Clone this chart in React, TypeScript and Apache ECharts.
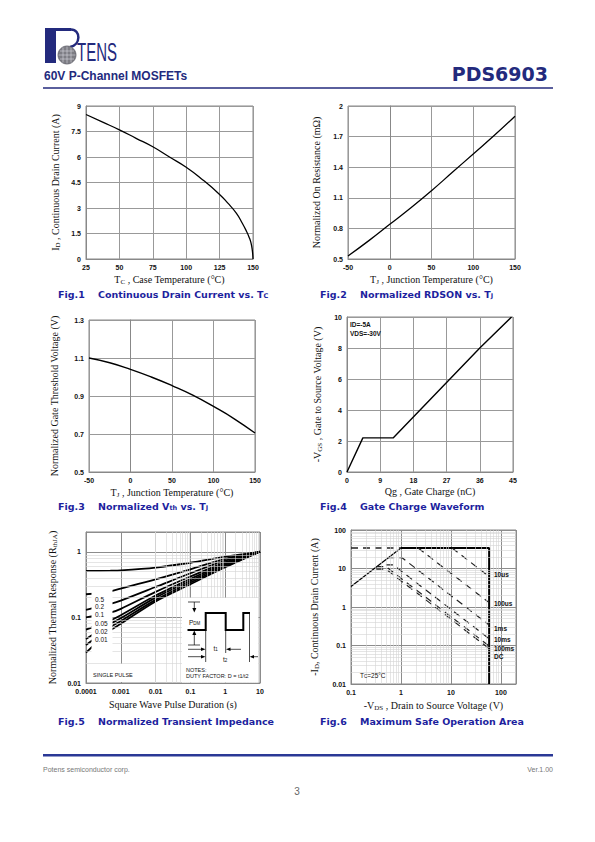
import React, { useEffect, useRef } from 'react';
import * as echarts from 'echarts';

// ---------- DATA ----------
// Fig.1  Continuous drain current vs. case temperature
const fig1Temp = [25, 37.5, 50, 62.5, 75, 87.5, 100, 112.5, 125, 131, 137.5, 142, 145, 147, 148.5, 149.5, 150];
const fig1Id = [8.5, 8.05, 7.6, 7.1, 6.6, 6.0, 5.4, 4.65, 3.8, 3.3, 2.7, 2.1, 1.65, 1.3, 0.95, 0.5, 0];

// Fig.2  Normalized RDSON vs. Tj
const fig2Tj = [-50, -25, 0, 25, 50, 75, 100, 125, 150];
const fig2Rdson = [0.53, 0.68, 0.84, 1.0, 1.17, 1.35, 1.53, 1.71, 1.9];

// Fig.3  Normalized Vth vs. Tj
const fig3Tj = [-50, -25, 0, 25, 50, 75, 100, 125, 150];
const fig3Vth = [1.1, 1.075, 1.04, 1.0, 0.955, 0.905, 0.845, 0.78, 0.705];

// Fig.4  Gate charge
const fig4Qg = [0, 4.3, 12.5, 36, 44.6];
const fig4Vgs = [0, 2.2, 2.2, 8, 10];

// Fig.5  Transient thermal impedance
const fig5Time = [0.0001, 0.0005, 0.001, 0.01, 0.1, 1, 10];
const fig5D05 = [0.51, 0.515, 0.52, 0.575, 0.68, 0.84, 1.0];
const fig5D02 = [0.225, 0.25, 0.275, 0.38, 0.54, 0.78, 1.0];
const fig5D01 = [0.13, 0.16, 0.18, 0.29, 0.47, 0.73, 1.0];
const fig5D005 = [0.1, 0.118, 0.135, 0.245, 0.42, 0.69, 1.0];
const fig5D002 = [0.065, 0.09, 0.108, 0.215, 0.385, 0.66, 1.0];
const fig5D001 = [0.047, 0.08, 0.097, 0.2, 0.36, 0.63, 1.0];
const fig5SingleA = [0.038, 0.071, 0.088, 0.185, 0.34, 0.6, 1.0];
const fig5SingleB = [0.029, 0.063, 0.08, 0.175, 0.32, 0.58, 1.0];
const fig5Labels = ['0.5', '0.2', '0.1', '0.05', '0.02', '0.01'];

// Fig.6  Safe operating area  ([Vds, Id] pairs)
const soaSlope: number[][] = [[0.1, 3.4], [1, 34]];
const soaLimit: number[][] = [[1, 34], [58, 34], [58, 0.01]];
const soaDashTop: number[][] = [[0.1, 34], [1, 34]];
const soa10us: number[][] = [[10.5, 34], [58, 6.2]];
const soa100us: number[][] = [[2.2, 34], [58, 1.3]];
const soa1ms: number[][] = [[0.53, 19], [1.05, 19], [58, 0.34]];
const soa10ms: number[][] = [[0.5, 12.4], [0.7, 12.4], [58, 0.15]];
const soa100ms: number[][] = [[0.32, 11.2], [0.5, 11.2], [58, 0.097]];
const soaDC: number[][] = [[0.32, 9.6], [0.5, 9.6], [58, 0.083]];
const soaLabels = ['10us', '100us', '1ms', '10ms', '100ms', 'DC'];

// tick labels
const fig5XTicks = ['0.0001', '0.001', '0.01', '0.1', '1', '10'];
const fig5YTicks = ['0.01', '0.1', '1'];
const fig6XTicks = ['0.1', '1', '10', '100'];
const fig6YTicks = ['0.01', '0.1', '1', '10', '100'];

// ---------- STYLE ----------
const NAVY = '#232a7d';
const CAP = '#1d1f9e';
const SANS = 'Liberation Sans, Arial, sans-serif';
const SERIF = 'Liberation Serif, Times New Roman, serif';
const TICK = { fontFamily: SANS, fontWeight: 'bold' as const, fontSize: 7, color: '#111' };
const NAME = { fontFamily: SERIF, fontSize: 10, color: '#111' };
const RICH = {
  n: { fontFamily: SERIF, fontSize: 10, color: '#111' },
  s: { fontFamily: SERIF, fontSize: 7, color: '#111', padding: [5, 0, 0, 0] },
};

const grids = [
  { left: 86, top: 106, width: 167, height: 153 },
  { left: 348, top: 106, width: 167, height: 153 },
  { left: 89, top: 320, width: 166, height: 152 },
  { left: 347, top: 317, width: 166, height: 155 },
  { left: 86, top: 532, width: 174, height: 151 },
  { left: 351, top: 530, width: 165, height: 154 },
].map((g) => ({ ...g, show: true, borderColor: '#888', borderWidth: 1, containLabel: false }));

function linAxis(gi: number, min: number, max: number, interval: number, name: string, nameGap: number) {
  return {
    type: 'value', gridIndex: gi, min, max, interval,
    axisLine: { show: true, lineStyle: { color: '#888' } },
    axisTick: { show: false },
    splitLine: { show: true, lineStyle: { color: '#999', width: 1 } },
    axisLabel: { ...TICK, margin: 5 },
    name, nameLocation: 'middle', nameGap,
    nameTextStyle: { ...NAME, rich: RICH },
  };
}

function logLabel(list: string[]) {
  return (v: number) => {
    const hit = list.find((t) => Math.abs(Math.log10(parseFloat(t)) - Math.log10(v)) < 0.02);
    return hit ?? '';
  };
}

function logAxis(gi: number, min: number, max: number, ticks: string[], name: string, nameGap: number) {
  return {
    type: 'log', logBase: 10, gridIndex: gi, min, max,
    axisLine: { show: true, lineStyle: { color: '#888' } },
    axisTick: { show: false },
    splitLine: { show: true, lineStyle: { color: '#8c8c8c', width: 1 } },
    axisLabel: { ...TICK, margin: 5, formatter: logLabel(ticks), showMinLabel: true, showMaxLabel: true },
    name, nameLocation: 'middle', nameGap,
    nameTextStyle: { ...NAME, rich: RICH },
  };
}

function minors(fromExp: number, toExp: number, max: number) {
  const out: number[] = [];
  for (let e = fromExp; e <= toExp; e++) {
    for (let d = 2; d <= 9; d++) {
      const v = +(d * Math.pow(10, e)).toPrecision(3);
      if (v < max * 0.999) out.push(v);
    }
  }
  return out;
}

function minorGrid(gi: number, xs: number[], ys: number[], anchor: number[]) {
  return {
    type: 'line', xAxisIndex: gi, yAxisIndex: gi, data: [anchor], showSymbol: false, silent: true,
    lineStyle: { width: 0 },
    markLine: {
      silent: true, symbol: ['none', 'none'], label: { show: false },
      emphasis: { disabled: true },
      lineStyle: { color: '#d4d4d4', width: 0.6, type: 'solid' },
      data: [...xs.map((v) => ({ xAxis: v })), ...ys.map((v) => ({ yAxis: v }))],
    },
  };
}

function curve(gi: number, xs: number[], ys: number[], width = 1.4, smooth: boolean | number = true) {
  return {
    type: 'line', xAxisIndex: gi, yAxisIndex: gi, showSymbol: false, smooth, silent: true,
    data: xs.map((x, i) => [x, ys[i]]),
    lineStyle: { color: '#000', width },
  };
}

function pairs(gi: number, pts: number[][], width: number, dashed: boolean) {
  return {
    type: 'line', xAxisIndex: gi, yAxisIndex: gi, showSymbol: false, silent: true,
    data: pts,
    lineStyle: { color: dashed ? '#222' : '#000', width, type: dashed ? [7, 5] : 'solid' },
  };
}

// ---------- GRAPHIC HELPERS ----------
function txt(x: number, y: number, text: string, style: any, extra: any = {}) {
  return { type: 'text', x, y, z: 100, ...extra, style: { text, verticalAlign: 'middle', ...style } };
}
function ln(x1: number, y1: number, x2: number, y2: number, stroke = '#000', lineWidth = 0.7) {
  return { type: 'line', z: 101, shape: { x1, y1, x2, y2 }, style: { stroke, lineWidth } };
}
function tri(points: number[][]) {
  return { type: 'polygon', z: 101, shape: { points }, style: { fill: '#000' } };
}

const CAP_RICH = {
  b: { fontFamily: 'DejaVu Sans, sans-serif', fontWeight: 'bold', fontSize: 9.5, fill: CAP, color: CAP },
  s: { fontFamily: 'DejaVu Sans, sans-serif', fontWeight: 'bold', fontSize: 6.5, fill: CAP, color: CAP, padding: [4, 0, 0, 0] },
};
function caption(x: number, y: number, text: string) {
  return { type: 'text', x, y, z: 100, style: { text, rich: CAP_RICH, verticalAlign: 'middle', fill: CAP } };
}

const smallBold = { font: 'bold 6.5px Liberation Sans, Arial, sans-serif', fill: '#111' };
const small = { font: '6.5px Liberation Sans, Arial, sans-serif', fill: '#111' };
const tiny = { font: '5.5px Liberation Sans, Arial, sans-serif', fill: '#111' };
const subRich = {
  p: { font: '6.5px Liberation Sans, Arial, sans-serif', fill: '#111' },
  d: { font: '4.5px Liberation Sans, Arial, sans-serif', fill: '#111', padding: [3, 0, 0, 0] },
};

const soaLabelY = [574, 603, 628, 639, 648, 656];
const fig5LabelY = [599, 606.5, 614.5, 623, 631.5, 639.5];

const graphics: any[] = [
  // ----- logo -----
  { type: 'rect', z: 100, shape: { x: 45, y: 28, width: 11, height: 35 }, style: { fill: NAVY } },
  { type: 'polyline', z: 100, shape: { points: [[56, 29.5], [71, 29.5]] }, style: { stroke: NAVY, lineWidth: 3, fill: 'none' } },
  { type: 'bezierCurve', z: 100, shape: { x1: 71, y1: 29.5, x2: 70, y2: 47, cpx1: 81, cpy1: 29.5, cpx2: 81, cpy2: 45 }, style: { stroke: NAVY, lineWidth: 2.5, fill: 'none' } },
  { type: 'circle', z: 100, shape: { cx: 67, cy: 55, r: 9 }, style: { fill: '#7d7d84', stroke: '#5a5a64', lineWidth: 0.8 } },
  ln(60, 51, 74, 51, '#d8d8e0', 0.6), ln(58.5, 55, 75.5, 55, '#d8d8e0', 0.6), ln(60, 59, 74, 59, '#d8d8e0', 0.6),
  ln(63, 47.5, 63, 62.5, '#d8d8e0', 0.6), ln(67, 46.5, 67, 63.5, '#d8d8e0', 0.6), ln(71, 47.5, 71, 62.5, '#d8d8e0', 0.6),
  { type: 'text', x: 77, y: 64, z: 100, scaleX: 0.6, style: { text: 'TENS', font: '25px Liberation Sans, Arial, sans-serif', fill: NAVY, verticalAlign: 'bottom' } },
  // ----- header -----
  txt(44, 76, '60V P-Channel MOSFETs', { font: 'bold 12px Liberation Sans, Arial, sans-serif', fill: NAVY }),
  txt(548, 73.5, 'PDS6903', { font: 'bold 19px DejaVu Sans, sans-serif', fill: NAVY, align: 'right' }),
  ln(43, 88, 553, 88, NAVY, 1.5),
  // ----- captions -----
  caption(58, 294, '{b|Fig.1    Continuous Drain Current vs. T}{s|C}'),
  caption(320, 294, '{b|Fig.2    Normalized RDSON vs. T}{s|J}'),
  caption(58, 506, '{b|Fig.3    Normalized V}{s|th}{b| vs. T}{s|J}'),
  caption(320, 506, '{b|Fig.4    Gate Charge Waveform}'),
  caption(58, 721, '{b|Fig.5    Normalized Transient Impedance}'),
  caption(320, 721, '{b|Fig.6    Maximum Safe Operation Area}'),
  // ----- fig4 notes -----
  txt(350, 324, 'ID=-5A', smallBold),
  txt(350, 333.5, 'VDS=-30V', smallBold),
  // ----- fig5 label box -----
  { type: 'rect', z: 99, shape: { x: 91.5, y: 588, width: 21, height: 73 }, style: { fill: '#fff' } },
  { type: 'rect', z: 99, shape: { x: 88, y: 664, width: 44, height: 18 }, style: { fill: '#fff' } },
  ...fig5Labels.map((t, i) => txt(95, fig5LabelY[i], t, small)),
  txt(93, 675, 'SINGLE PULSE', tiny),
  // ----- fig5 inset -----
  { type: 'rect', z: 99, shape: { x: 182, y: 598, width: 76, height: 84.5 }, style: { fill: '#fff' } },
  { type: 'polyline', z: 101, shape: { points: [[187.5, 630], [205.7, 630], [205.7, 613], [225.7, 613], [225.7, 630], [243.3, 630], [243.3, 613], [250, 613]] }, style: { stroke: '#000', lineWidth: 2, fill: 'none' } },
  ln(188, 602, 200, 602), ln(194.3, 602, 194.3, 609), tri([[192.3, 608], [196.3, 608], [194.3, 612.5]]),
  ln(188, 645, 200, 645), ln(194.3, 645, 194.3, 634), tri([[192.3, 635], [196.3, 635], [194.3, 630.5]]),
  txt(189, 622, '{p|P}{d|DM}', { rich: subRich }),
  ln(205.7, 630, 205.7, 662), ln(225.7, 630, 225.7, 653), ln(249.5, 613, 249.5, 662),
  ln(188, 649.3, 202, 649.3), tri([[201, 647.5], [201, 651.1], [205.5, 649.3]]),
  ln(229.5, 649.3, 241, 649.3), tri([[230.5, 647.5], [230.5, 651.1], [226, 649.3]]),
  txt(213.5, 648, '{p|t}{d|1}', { rich: subRich }),
  ln(188, 656.7, 202, 656.7), tri([[201, 654.9], [201, 658.5], [205.5, 656.7]]),
  ln(253, 656.7, 258, 656.7), tri([[254, 654.9], [254, 658.5], [249.7, 656.7]]),
  txt(223, 659, '{p|t}{d|2}', { rich: subRich }),
  txt(186, 669.5, 'NOTES:', tiny),
  txt(186, 676, 'DUTY FACTOR: D = t1/t2', tiny),
  // ----- fig6 labels -----
  ...soaLabels.map((t, i) => txt(494, soaLabelY[i], t, smallBold)),
  txt(360, 675, '{p|T}{d|C}{p|=25°C}', { rich: subRich }),
  // ----- footer -----
  { type: 'rect', z: 100, shape: { x: 43, y: 754, width: 510, height: 2.5 }, style: { fill: '#2a3896' } },
  txt(43, 769, 'Potens semiconductor corp.', { font: '7px Liberation Sans, Arial, sans-serif', fill: '#777' }),
  txt(553, 769, 'Ver.1.00', { font: '7px Liberation Sans, Arial, sans-serif', fill: '#777', align: 'right' }),
  txt(297, 791, '3', { font: '10px Liberation Sans, Arial, sans-serif', fill: '#666', align: 'center' }),
];

const option: any = {
  animation: false,
  backgroundColor: '#fff',
  grid: grids,
  xAxis: [
    linAxis(0, 25, 150, 25, '{n|T}{s|C}{n| , Case Temperature (°C)}', 14),
    linAxis(1, -50, 150, 50, '{n|T}{s|J}{n| , Junction Temperature (°C)}', 14),
    linAxis(2, -50, 150, 50, '{n|T}{s|J}{n| , Junction Temperature (°C)}', 14),
    linAxis(3, 0, 45, 9, '{n|Qg , Gate Charge (nC)}', 14),
    logAxis(4, 0.0001, 10, fig5XTicks, '{n|Square Wave Pulse Duration (s)}', 16),
    logAxis(5, 0.1, 200, fig6XTicks, '{n|-V}{s|DS}{n| , Drain to Source Voltage (V)}', 15),
  ],
  yAxis: [
    linAxis(0, 0, 9, 1.5, '{n|I}{s|D}{n| , Continuous Drain Current (A)}', 25),
    linAxis(1, 0.5, 2, 0.3, '{n|Normalized On Resistance (mΩ)}', 27),
    linAxis(2, 0.5, 1.3, 0.2, '{n|Normalized Gate Threshold Voltage (V)}', 30),
    linAxis(3, 0, 10, 2, '{n|-V}{s|GS}{n| , Gate to Source Voltage (V)}', 24),
    logAxis(4, 0.01, 2, fig5YTicks, '{n|Normalized Thermal Response (R}{s|thJA}{n|)}', 28),
    logAxis(5, 0.01, 100, fig6YTicks, '{n|-I}{s|D}{n|, Continuous Drain Current (A)}', 31),
  ],
  graphic: { elements: graphics },
  series: [
    curve(0, fig1Temp, fig1Id, 1.3),
    curve(1, fig2Tj, fig2Rdson, 1.3),
    curve(2, fig3Tj, fig3Vth, 1.4),
    curve(3, fig4Qg, fig4Vgs, 1.4, false),
    minorGrid(4, minors(-4, 0, 10), minors(-2, 0, 2), [0.001, 0.1]),
    curve(4, fig5Time, fig5D05, 1.8, 0.3),
    curve(4, fig5Time, fig5D02, 1.8, 0.3),
    curve(4, fig5Time, fig5D01, 1.8, 0.3),
    curve(4, fig5Time, fig5D005, 1.8, 0.3),
    curve(4, fig5Time, fig5D002, 1.8, 0.3),
    curve(4, fig5Time, fig5D001, 1.8, 0.3),
    curve(4, fig5Time, fig5SingleA, 1.8, 0.3),
    curve(4, fig5Time, fig5SingleB, 1.8, 0.3),
    minorGrid(5, minors(-1, 2, 200), minors(-2, 1, 100), [1, 1]),
    pairs(5, soaSlope, 1.2, false),
    pairs(5, soaLimit, 2, false),
    pairs(5, soaDashTop, 1.4, true),
    pairs(5, soa10us, 1.2, true),
    pairs(5, soa100us, 1.2, true),
    pairs(5, soa1ms, 1.2, true),
    pairs(5, soa10ms, 1.2, true),
    pairs(5, soa100ms, 1.2, true),
    pairs(5, soaDC, 1.2, true),
  ],
};

export default function App() {
  const ref = useRef<HTMLDivElement>(null);
  useEffect(() => {
    const chart = echarts.init(ref.current!, null, { renderer: 'svg' });
    chart.setOption(option);
    return () => chart.dispose();
  }, []);
  return (
    <div
      ref={ref}
      style={{ position: 'absolute', left: 0, top: 0, width: 595, height: 842, background: '#fff' }}
    />
  );
}
